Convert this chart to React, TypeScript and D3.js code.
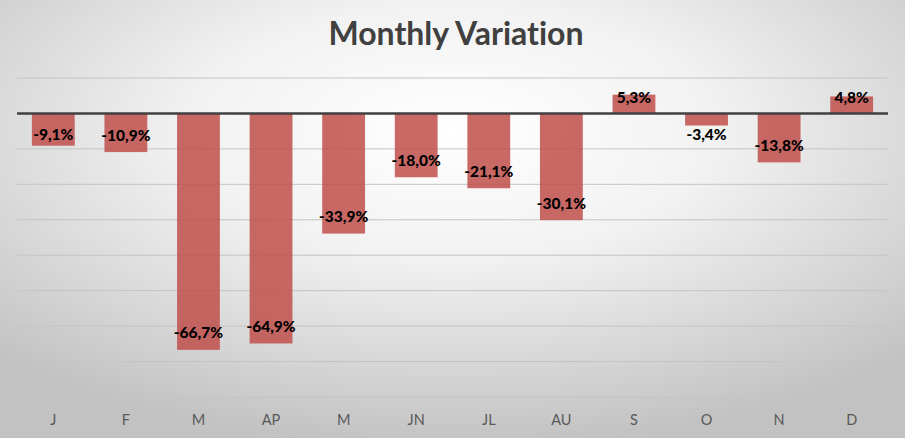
import React from "react";
import * as d3 from "d3";

const months = ["J", "F", "M", "AP", "M ", "JN", "JL", "AU", "S", "O", "N", "D"];
const monthLabels = ["J", "F", "M", "AP", "M", "JN", "JL", "AU", "S", "O", "N", "D"];
const variation = [-9.1, -10.9, -66.7, -64.9, -33.9, -18.0, -21.1, -30.1, 5.3, -3.4, -13.8, 4.8];
const gridTicks = [10, 0, -10, -20, -30, -40, -50, -60, -70, -80];

const W = 905;
const H = 438;

export default function App() {
  const x = d3.scaleBand<string>().domain(months).range([17, 888]).paddingInner(0.41).paddingOuter(0.205);
  const y = d3.scaleLinear().domain([10, -80]).range([78, 397]);
  const zero = y(0);
  const fmt = (v: number) => v.toFixed(1).replace(".", ",") + "%";

  return (
    <svg width={W} height={H} style={{ position: "absolute", left: 0, top: 0, display: "block", fontVariantLigatures: "none" }}>
      <defs>
        <radialGradient id="bg" cx="50%" cy="30%" r="72%">
          <stop offset="0%" stopColor="#ffffff" />
          <stop offset="40%" stopColor="#f2f2f2" />
          <stop offset="100%" stopColor="#c2c2c2" />
        </radialGradient>
      </defs>
      <rect x={0} y={0} width={W} height={H} fill="url(#bg)" />
      <text x={456} y={45} textAnchor="middle" fontFamily="Lato, 'Open Sans', sans-serif" fontWeight="bold" fontSize={32} fill="#404040" style={{ fontVariantLigatures: "none" }}>
        Monthly Variation
      </text>
      {gridTicks.filter((t) => t !== 0).map((t) => (
        <line key={t} x1={17} x2={888} y1={y(t)} y2={y(t)} stroke="#c4c4c4" strokeWidth={1} />
      ))}
      {variation.map((v, i) => {
        const bx = x(months[i])!;
        const top = Math.min(y(v), zero);
        const h = Math.abs(y(v) - zero);
        return (
          <rect key={i} x={bx} y={top} width={x.bandwidth()} height={h} fill="#c0504d" fillOpacity={0.86} />
        );
      })}
      <line x1={17} x2={888} y1={zero} y2={zero} stroke="#404040" strokeWidth={2.5} />
      {variation.map((v, i) => {
        const cx = x(months[i])! + x.bandwidth() / 2;
        const cy = v < 0 ? Math.max(y(v) - 17, zero + 21) : Math.min(y(v) + 17, zero - 16);
        return (
          <text key={i} x={cx} y={cy} dy="0.35em" textAnchor="middle" fontFamily="Lato, 'Open Sans', sans-serif" fontWeight="900" fontSize={15.5} fill="#000">
            {fmt(v)}
          </text>
        );
      })}
      {months.map((m, i) => (
        <text key={i} x={x(m)! + x.bandwidth() / 2} y={420} dy="0.35em" textAnchor="middle" fontFamily="Lato, 'Open Sans', sans-serif" fontSize={14.5} fill="#595959">
          {monthLabels[i]}
        </text>
      ))}
    </svg>
  );
}
